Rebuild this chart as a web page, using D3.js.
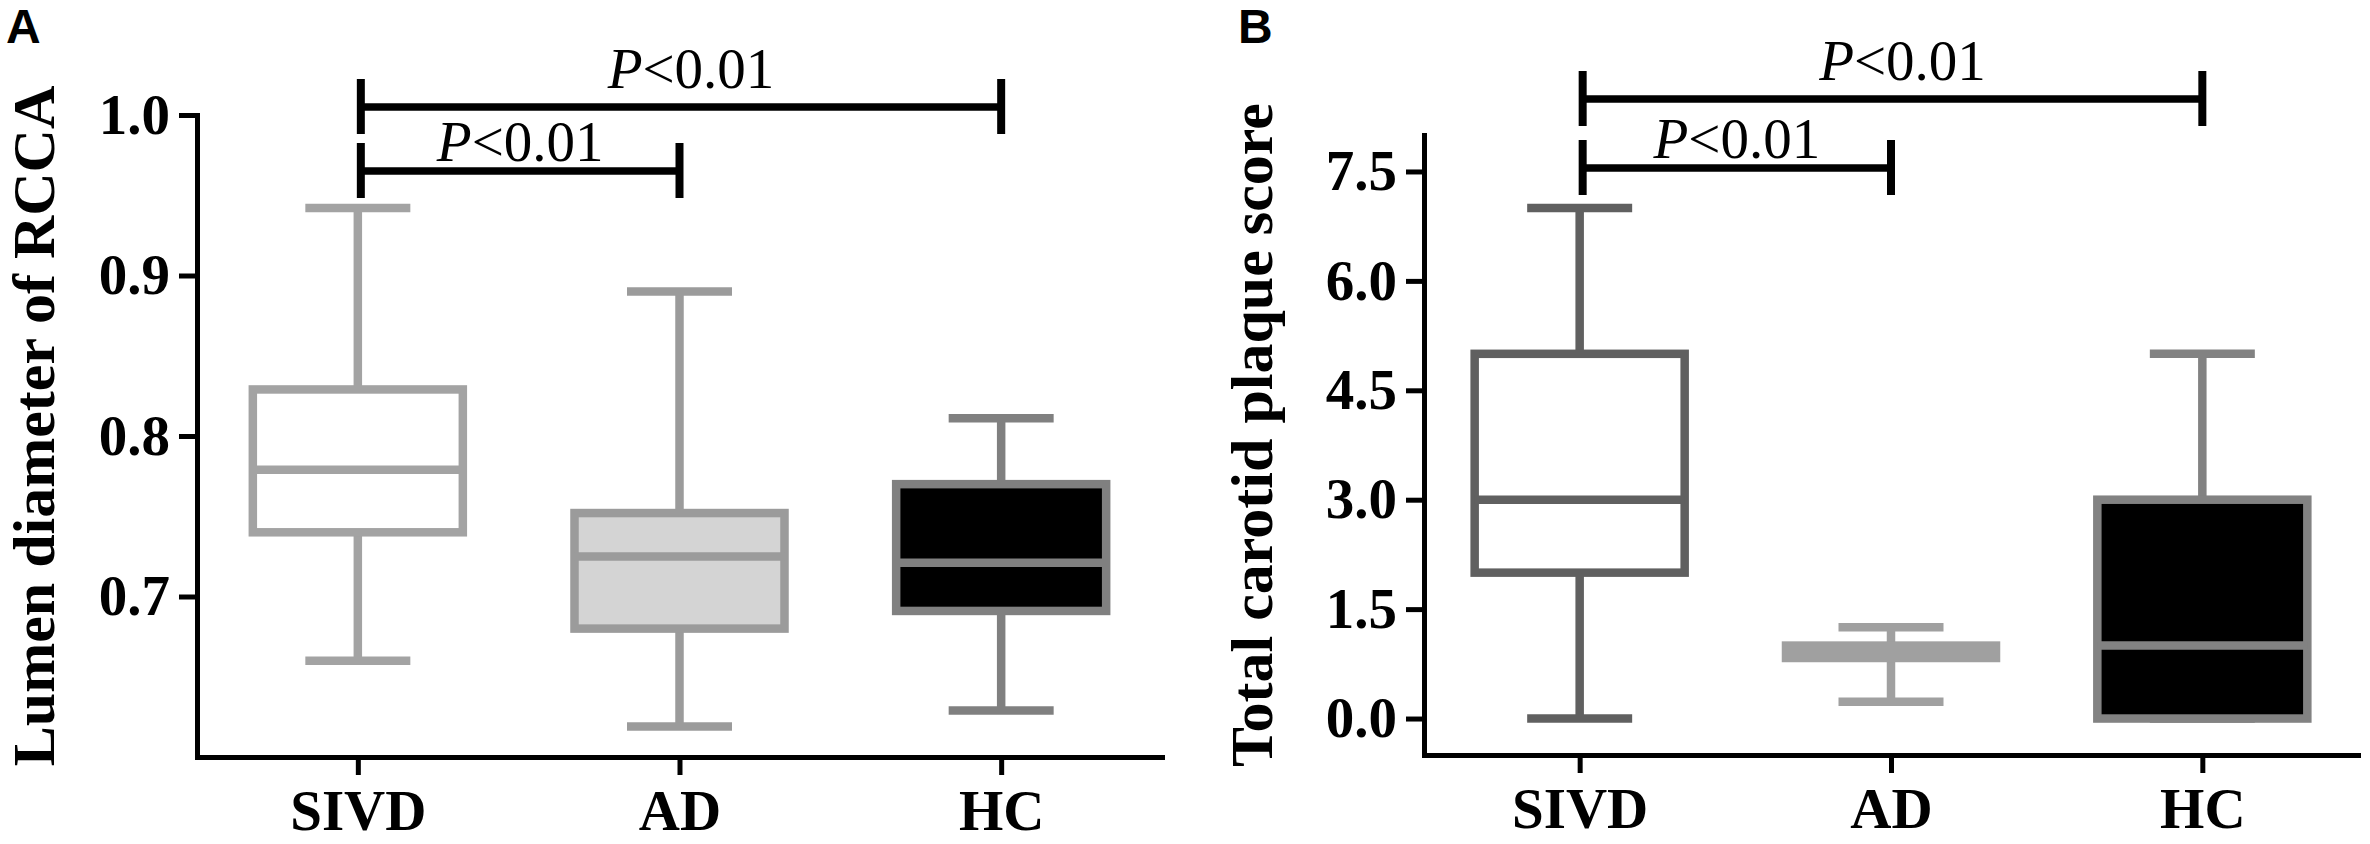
<!DOCTYPE html>
<html>
<head>
<meta charset="utf-8">
<script src="https://cdn.jsdelivr.net/npm/d3@7"></script>
<style>
  body { margin: 0; background: #fff; }
  svg { display: block; }
</style>
</head>
<body>
<svg id="svg" width="2370" height="844"></svg>
<script>
const groups = ['SIVD', 'AD', 'HC']

// panel A - lumen diameter of RCCA
const rccaMin = [0.660, 0.619, 0.629]
const rccaQ1 = [0.740, 0.680, 0.691]
const rccaMedian = [0.779, 0.725, 0.721]
const rccaQ3 = [0.829, 0.752, 0.770]
const rccaMax = [0.942, 0.890, 0.811]
const rccaTicks = [0.7, 0.8, 0.9, 1.0]

// panel B - total carotid plaque score
const plaqueMin = [0, 0.23, 0]
const plaqueQ1 = [2, 0.83, 0]
const plaqueMedian = [3, 0.9, 1]
const plaqueQ3 = [5, 1.0, 3]
const plaqueMax = [7, 1.25, 5]
const plaqueTicks = [0, 1.5, 3, 4.5, 6, 7.5]

const comparisons = [['SIVD', 'AD'], ['SIVD', 'HC']]
const pLabel = ['P', '<0.01']

const svg = d3.select('#svg')
const serif = "'Liberation Serif', 'Times New Roman', serif"

function boxData (mins, q1s, meds, q3s, maxs) {
  return groups.map((g, i) => ({ group: g, min: mins[i], q1: q1s[i], med: meds[i], q3: q3s[i], max: maxs[i] }))
}

function drawPanel (o) {
  const g = svg.append('g')

  const x = d3.scalePoint()
    .domain(groups)
    .range([o.left, o.right])
    .padding(0.5)

  const y = d3.scaleLinear()
    .domain(o.domain)
    .range([o.bottom, o.top])

  const boxW = 210
  const capW = 105
  const sw = 8.5

  const box = g.selectAll('g.box')
    .data(o.data)
    .enter()
    .append('g')
    .attr('class', 'box')

  // whiskers
  box.append('line')
    .attr('x1', d => x(d.group)).attr('x2', d => x(d.group))
    .attr('y1', d => y(d.max)).attr('y2', d => y(d.min))
    .attr('stroke', (d, i) => o.strokes[i])
    .attr('stroke-width', sw)

  box.selectAll('line.cap')
    .data((d, i) => [d.max, d.min].map(v => ({ v, g: d.group, c: o.strokes[i] })))
    .enter()
    .append('line')
    .attr('class', 'cap')
    .attr('x1', d => x(d.g) - capW / 2).attr('x2', d => x(d.g) + capW / 2)
    .attr('y1', d => y(d.v)).attr('y2', d => y(d.v))
    .attr('stroke', d => d.c)
    .attr('stroke-width', sw)

  box.append('rect')
    .attr('x', d => x(d.group) - boxW / 2)
    .attr('width', boxW)
    .attr('y', d => y(d.q3))
    .attr('height', d => y(d.q1) - y(d.q3))
    .attr('fill', (d, i) => o.fills[i])
    .attr('stroke', (d, i) => o.strokes[i])
    .attr('stroke-width', sw)

  box.append('line')
    .attr('x1', d => x(d.group) - boxW / 2).attr('x2', d => x(d.group) + boxW / 2)
    .attr('y1', d => y(d.med)).attr('y2', d => y(d.med))
    .attr('stroke', (d, i) => o.strokes[i])
    .attr('stroke-width', sw)

  // axes
  const yAxis = g.append('g')
    .attr('transform', `translate(${o.left},0)`)
    .call(d3.axisLeft(y).tickValues(o.ticks).tickFormat(d3.format('.1f')).tickSize(18).tickSizeOuter(0).tickPadding(9))

  const xAxis = g.append('g')
    .attr('transform', `translate(0,${o.bottom})`)
    .call(d3.axisBottom(x).tickSize(18).tickSizeOuter(0).tickPadding(15))

  ;[yAxis, xAxis].forEach(a => {
    a.select('.domain').attr('stroke', '#000').attr('stroke-width', 5).attr('stroke-linecap', 'square')
    a.selectAll('.tick line').attr('stroke', '#000').attr('stroke-width', 5)
    a.selectAll('.tick text')
      .attr('fill', '#000')
      .style('font-family', serif)
      .style('font-weight', 'bold')
      .style('font-size', '57px')
  })

  g.append('text')
    .attr('transform', `translate(${o.labelX},${o.labelY}) rotate(-90)`)
    .attr('text-anchor', 'middle')
    .style('font-family', serif)
    .style('font-weight', 'bold')
    .style('font-size', '60px')
    .text(o.yLabel)

  // panel letter
  g.append('text')
    .attr('x', o.letterX)
    .attr('y', 43)
    .style('font-family', "'Liberation Sans', Arial, sans-serif")
    .style('font-weight', 'bold')
    .style('font-size', '48px')
    .text(o.letter)

  // significance brackets
  comparisons.forEach((c, i) => {
    const by = o.bracketY[i]
    const x1 = x(c[0]) + 3
    const x2 = x(c[1])
    g.append('line')
      .attr('x1', x1).attr('x2', x2)
      .attr('y1', by).attr('y2', by)
      .attr('stroke', '#000').attr('stroke-width', 7.5)
    ;[x1, x2].forEach(xx => {
      g.append('line')
        .attr('x1', xx).attr('x2', xx)
        .attr('y1', by - 28).attr('y2', by + 27)
        .attr('stroke', '#000').attr('stroke-width', 8)
    })
    const t = g.append('text')
      .attr('x', (x1 + x2) / 2 + (i === 1 ? 10 : 0))
      .attr('y', by - (i === 1 ? 19 : 10))
      .attr('text-anchor', 'middle')
      .style('font-family', serif)
      .style('font-size', '57px')
    t.append('tspan').style('font-style', 'italic').text(pLabel[0])
    t.append('tspan').text(pLabel[1])
  })
}

drawPanel({
  data: boxData(rccaMin, rccaQ1, rccaMedian, rccaQ3, rccaMax),
  domain: [0.6, 1.0],
  ticks: rccaTicks,
  left: 197, right: 1162, top: 115, bottom: 757,
  strokes: ['#a3a3a3', '#9b9b9b', '#808080'],
  fills: ['#ffffff', '#d4d4d4', '#000000'],
  yLabel: 'Lumen diameter of RCCA',
  labelX: 54, labelY: 426,
  letter: 'A', letterX: 6,
  bracketY: [171, 107]
})

drawPanel({
  data: boxData(plaqueMin, plaqueQ1, plaqueMedian, plaqueQ3, plaqueMax),
  domain: [-0.5, 8],
  ticks: plaqueTicks,
  left: 1424, right: 2358, top: 135, bottom: 755,
  strokes: ['#606060', '#a0a0a0', '#828282'],
  fills: ['#ffffff', '#d4d4d4', '#000000'],
  yLabel: 'Total carotid plaque score',
  labelX: 1272, labelY: 435,
  letter: 'B', letterX: 1238,
  bracketY: [168, 99]
})
</script>
</body>
</html>
